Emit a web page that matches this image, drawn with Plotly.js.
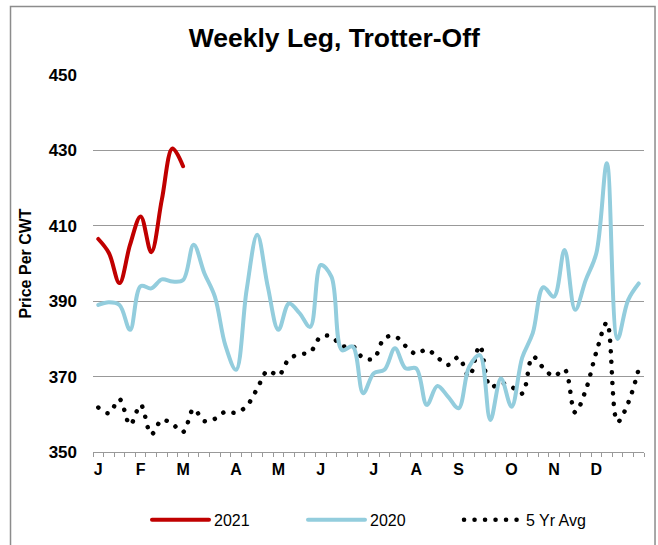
<!DOCTYPE html>
<html>
<head>
<meta charset="utf-8">
<script src="https://cdn.plot.ly/plotly-3.0.1.min.js"></script>
<style>
html,body{margin:0;padding:0;background:#fff;}
#chart{width:658px;height:545px;}
.js-line{stroke-linecap:round !important;stroke-linejoin:round !important;}
</style>
</head>
<body>
<div id="chart"></div>
<script>
// ---- data ----
var weeks = [1,2,3,4,5,6,7,8,9,10,11,12,13,14,15,16,17,18,19,20,21,22,23,24,25,26,
             27,28,29,30,31,32,33,34,35,36,37,38,39,40,41,42,43,44,45,46,47,48,49,50,51,52];
var monthTickWeeks = [1,5,9,14,18,22,27,31,35,40,44,48];
var monthLabels = ["J","F","M","A","M","J","J","A","S","O","N","D"];

var series2021 = [406.5,402.8,394.8,405.0,412.5,403.0,417.0,430.5,425.8];

var series2020 = [389.0,389.7,389.0,382.4,394.0,393.4,395.8,395.2,395.6,405.0,
                  397.5,391.2,378.2,371.8,393.0,407.6,393.8,382.4,389.4,386.8,
                  383.2,399.6,396.5,377.0,378.0,365.6,370.9,371.8,377.5,372.2,
                  372.2,362.5,367.5,364.7,361.6,372.6,375.7,358.5,369.5,362.0,
                  375.0,381.5,393.7,391.2,403.6,387.7,395.6,402.7,426.6,380.0,
                  390.3,394.7];

var series5yr = [361.8,360.3,364.0,357.2,362.5,354.7,358.5,357.4,355.3,361.4,
                 358.2,358.8,360.7,360.4,362.2,366.8,371.6,370.3,374.7,375.9,
                 376.5,380.6,380.6,378.1,378.1,374.9,374.8,380.2,380.7,378.1,
                 376.0,377.2,375.1,373.1,375.1,370.0,378.2,367.3,368.3,367.3,
                 365.5,375.3,372.3,370.1,371.9,360.5,366.4,376.5,384.3,358.0,
                 363.0,372.0];

var seriesNames = ["2021","2020","5 Yr Avg"];

// ---- chart ----
var font = "'Liberation Sans', Arial, sans-serif";
var traces = [
  {x: weeks.slice(0, series2021.length), y: series2021, name: seriesNames[0], type: 'scatter', mode: 'lines',
   line: {color: '#C00000', width: 4, shape: 'spline', smoothing: 1}},
  {x: weeks, y: series2020, name: seriesNames[1], type: 'scatter', mode: 'lines',
   line: {color: '#93CDDD', width: 4, shape: 'spline', smoothing: 1}},
  {x: weeks, y: series5yr, name: seriesNames[2], type: 'scatter', mode: 'lines',
   line: {color: '#000000', width: 4.5, shape: 'spline', smoothing: 1, dash: '0.1px,10.4px'}}
];
// draw order: 5yr at bottom, then 2020, then 2021
traces = [traces[2], traces[1], traces[0]];

var layout = {
  width: 658, height: 545,
  margin: {l: 93, r: 14, t: 75, b: 93},
  paper_bgcolor: '#fff', plot_bgcolor: '#fff',
  font: {family: font, color: '#000'},
  title: {text: '<b>Weekly Leg, Trotter-Off</b>', font: {family: font, size: 26.5, color: '#000'},
          x: 0.508, xref: 'container', y: 0.930, yref: 'container', yanchor: 'middle'},
  xaxis: {range: [0.5, 52.5], tickmode: 'array', tickvals: monthTickWeeks,
          ticktext: monthLabels.map(function(s){return '<b>'+s+'</b>';}),
          ticks: '', showgrid: false, zeroline: false,
          showline: true, linecolor: '#999', linewidth: 1,
          tickfont: {family: font, size: 16, color: '#000'}, ticklabelstandoff: 3,
          minor: {tick0: 0.5, dtick: 1, ticks: 'outside', ticklen: 4, tickcolor: '#999', tickwidth: 1, showgrid: false},
          fixedrange: true, automargin: false},
  yaxis: {range: [350, 450], tickmode: 'array', tickvals: [350,370,390,410,430,450],
          ticktext: ['<b>350</b>','<b>370</b>','<b>390</b>','<b>410</b>','<b>430</b>','<b>450</b>'],
          showgrid: true, gridcolor: '#999', gridwidth: 1, zeroline: false, showline: false, ticks: '',
          tickfont: {family: font, size: 17, color: '#000'}, ticklabelstandoff: 15,
          title: {text: '<b>Price Per CWT</b>', font: {family: font, size: 16, color: '#000'}, standoff: 13},
          fixedrange: true, automargin: false},
  showlegend: true,
  legend: {orientation: 'h', x: 0.2234, xref: 'container', xanchor: 'left',
           y: 0.046, yref: 'container', yanchor: 'middle',
           font: {family: font, size: 16, color: '#000'}, traceorder: 'reversed',
           entrywidth: 84, entrywidthmode: 'pixels', itemwidth: 57, bgcolor: 'rgba(0,0,0,0)'},
  shapes: [{type: 'rect', xref: 'paper', yref: 'paper', x0: -0.1497, x1: 1.02, y0: -0.3, y1: 1.1817,
            line: {color: '#8c8c8c', width: 1.5}, fillcolor: 'rgba(0,0,0,0)', layer: 'below'}]
};

Plotly.newPlot('chart', traces, layout, {displayModeBar: false, staticPlot: true});
</script>
</body>
</html>
